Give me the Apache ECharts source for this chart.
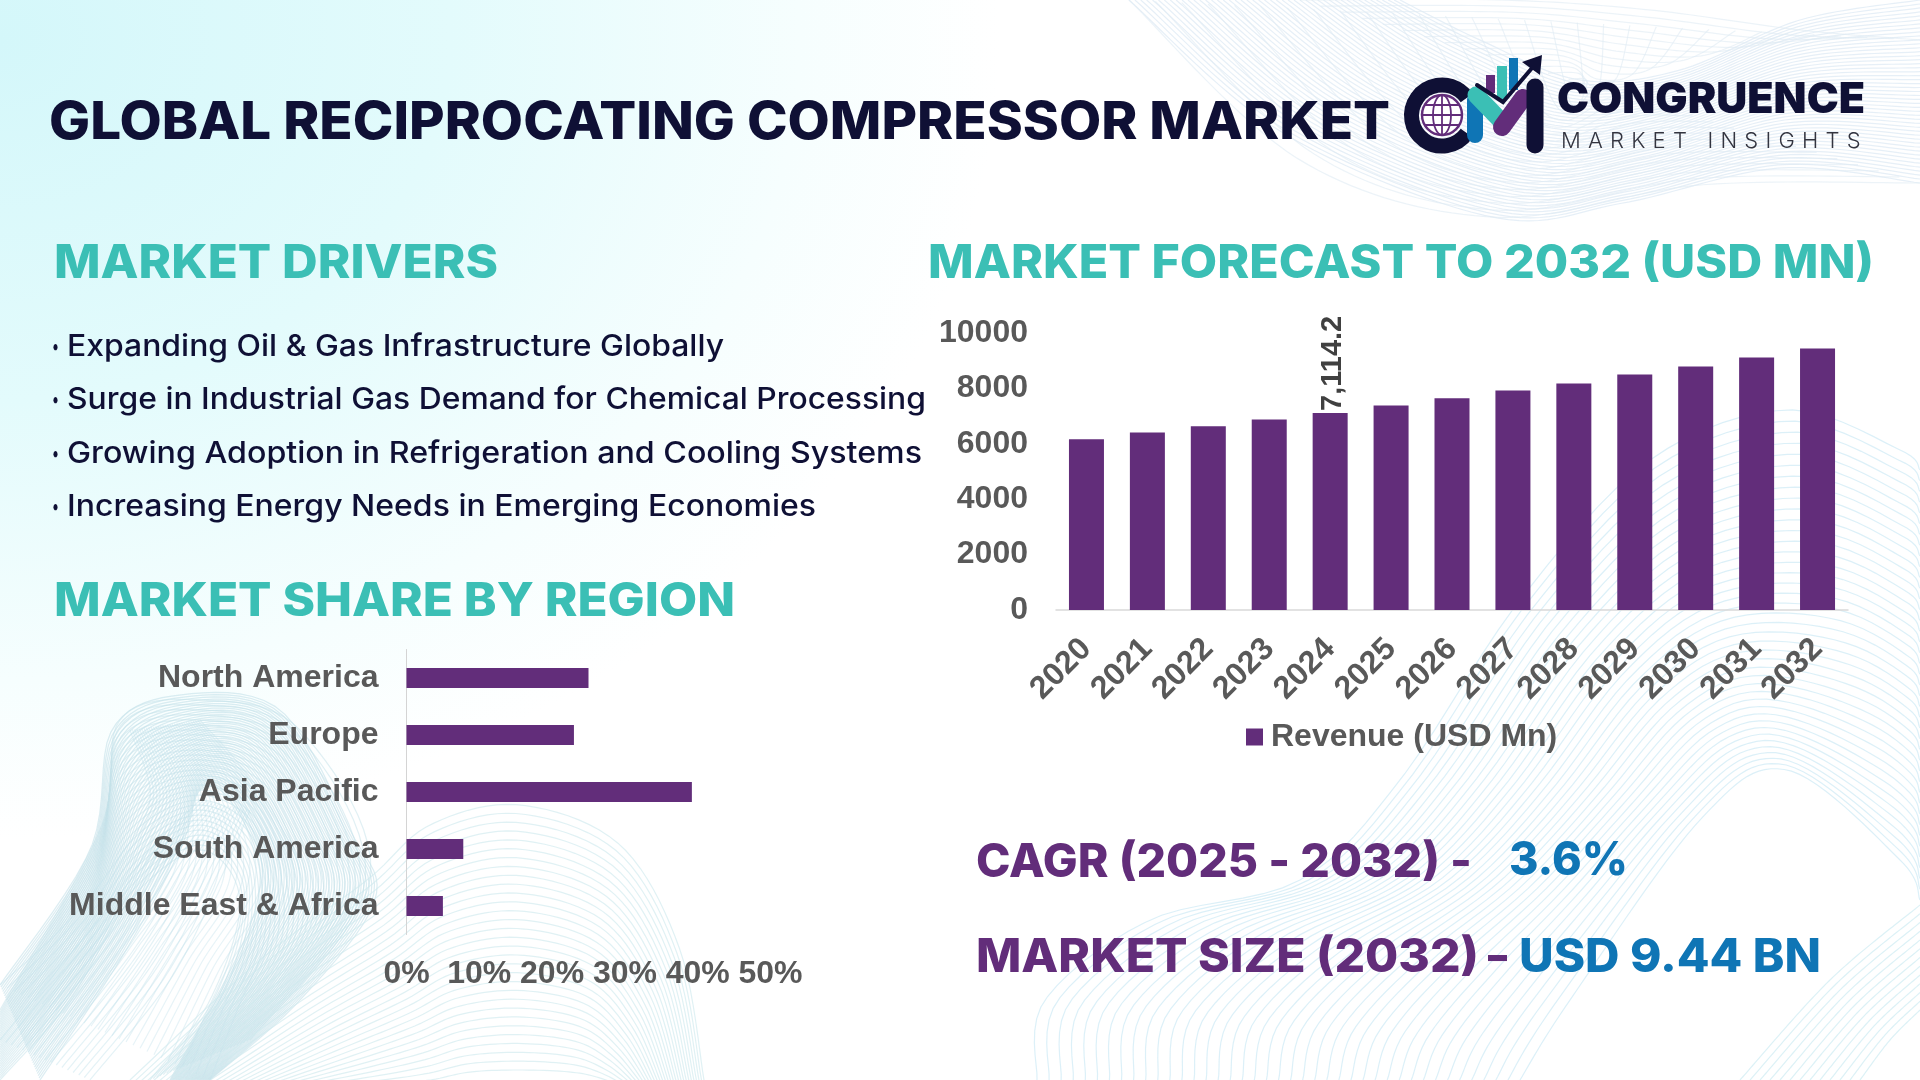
<!DOCTYPE html>
<html>
<head>
<meta charset="utf-8">
<title>Global Reciprocating Compressor Market</title>
<script src="https://cdn.jsdelivr.net/npm/echarts@6/dist/echarts.min.js"></script>
<style>
    html, body { margin: 0; padding: 0; background: #fff; }
    #page {
        position: relative; width: 1920px; height: 1080px; overflow: hidden;
        background: radial-gradient(ellipse 1000px 800px at 0 40px, #d4f7fa 0%, #e3fbfc 45%, #f6fefe 80%, #ffffff 100%);
    }
    #main { position: absolute; left: 0; top: 0; width: 1920px; height: 1080px; }
    #wordmark {
        position: absolute; left: 1561px; top: 127px; font: 300 22px Inter, sans-serif;
        letter-spacing: 7.2px; color: #33343f; white-space: nowrap;
    }
</style>
</head>
<body>
<div id="page">
    <div id="main"></div>
    <div id="wordmark">MARKET INSIGHTS</div>
</div>
<script>
const forecastYears = ['2020','2021','2022','2023','2024','2025','2026','2027','2028','2029','2030','2031','2032']
const forecastValues = [6160,6410,6630,6880,7114.2,7380,7640,7920,8180,8500,8790,9120,9440]
const labelledYear = '2024'

const regionNames = ['North America','Europe','Asia Pacific','South America','Middle East & Africa']
const regionShares = [25,23,39.2,7.8,5]

const driverLines = [
    'Expanding Oil & Gas Infrastructure Globally',
    'Surge in Industrial Gas Demand for Chemical Processing',
    'Growing Adoption in Refrigeration and Cooling Systems',
    'Increasing Energy Needs in Emerging Economies'
]

const PURPLE = '#622d7a'
const TEAL = '#3bbfb5'
const NAVY = '#0f1035'
const BLUE = '#0f75b5'
const GREY = '#595959'
const HEAD_FONT = 'Inter, sans-serif'
const CHART_FONT = '"Liberation Sans", Arial, sans-serif'

// decorative line families behind the charts, each one runs from edge a to edge b
const WAVES = [
    { color: '#d8e6f2', opacity: .65, n: 46, a: [[1129,0],[1283,133],[1492,217],[1623,203],[1780,168],[1920,183]], b: [[1400,0],[1480,40],[1580,80],[1680,70],[1800,20],[1920,0]] },
    { color: '#dfebf4', opacity: .6, n: 30, a: [[1129,0],[1300,160],[1492,217],[1700,185],[1920,183]], b: [[1920,40],[1800,30],[1650,10],[1500,0],[1300,0]] },
    { color: '#b9dbe6', opacity: .5, n: 44, a: [[0,985],[90,850],[112,730],[180,695],[280,710],[350,830],[375,900],[300,1000],[210,1080]], b: [[40,1080],[120,960],[180,850],[200,790],[230,800],[260,870],[240,950],[170,1080]] },
    { color: '#c4e2ea', opacity: .5, n: 30, a: [[0,1010],[100,830],[120,720],[200,700],[300,730],[370,880],[250,1040]], b: [[0,1080],[70,1000],[130,900],[200,850],[240,900],[210,1000],[150,1080]] },
    { color: '#c4e2ea', opacity: .45, n: 16, a: [[0,1040],[90,930],[150,850],[200,800]], b: [[90,1080],[170,980],[220,880],[250,810]] },
    { color: '#c4e2ea', opacity: .4, n: 30, a: [[0,985],[60,930],[110,870],[150,800],[130,730]], b: [[210,1080],[250,980],[300,880],[250,780],[200,720]] },
    { color: '#cfe9ee', opacity: .65, n: 30, a: [[130,1080],[260,960],[367,880],[430,825],[520,805],[620,845],[680,950],[704,1080]], b: [[300,1090],[380,1085],[430,1080],[470,1072],[520,1070],[570,1072],[600,1078],[630,1090]] },
    { color: '#cdeaf5', opacity: .7, n: 40, a: [[1037,1080],[1045,1000],[1150,920],[1300,880],[1400,780],[1520,600],[1650,460],[1787,410],[1900,450],[1920,470]], b: [[1520,1080],[1570,1000],[1700,820],[1787,770],[1900,860],[1920,900]] },
    { color: '#bfe5ee', opacity: .55, n: 12, a: [[1740,1080],[1830,980],[1920,905]], b: [[1860,1080],[1890,1040],[1920,1010]] }
]

// Catmull-Rom through the edge points, so every edge has the same number of samples
function resample(pts, size) {
    return Array.from({ length: size }, (_, i) => {
        const p = i / (size - 1) * (pts.length - 1)
        const k = Math.min(Math.floor(p), pts.length - 2)
        const t = p - k
        const p0 = pts[Math.max(k - 1, 0)], p1 = pts[k], p2 = pts[k + 1], p3 = pts[Math.min(k + 2, pts.length - 1)]
        return [0, 1].map(d => .5 * (2 * p1[d] + (p2[d] - p0[d]) * t + (2 * p0[d] - 5 * p1[d] + 4 * p2[d] - p3[d]) * t * t + (3 * p1[d] - p0[d] - 3 * p2[d] + p3[d]) * t * t * t))
    })
}

function waveLines() {
    const lines = []
    WAVES.forEach(w => {
        const a = resample(w.a, 70), b = resample(w.b, 70)
        for (let j = 0; j <= w.n; j++) {
            const t = j / w.n
            lines.push({
                type: 'polyline', silent: true, z: -10,
                shape: { points: a.map((p, i) => [p[0] + (b[i][0] - p[0]) * t, p[1] + (b[i][1] - p[1]) * t]) },
                style: { stroke: w.color, opacity: w.opacity, lineWidth: 1.2, fill: null }
            })
        }
    })
    return lines
}

const measure = document.createElement('canvas').getContext('2d')

// text squeezed or stretched horizontally to run from x to right
function fitText(text, x, right, cy, size, weight, fill, family) {
    const font = weight + ' ' + size + 'px ' + (family || HEAD_FONT)
    measure.font = font
    return {
        type: 'text', silent: true, z: 20, x: x, y: cy,
        scaleX: (right - x) / measure.measureText(text).width,
        style: { text: text, font: font, fill: fill, textAlign: 'left', textVerticalAlign: 'middle' }
    }
}

function seg(points, color, width) {
    return {
        type: 'polyline', silent: true, z: 15, shape: { points: points },
        style: { stroke: color, lineWidth: width, lineCap: 'round', lineJoin: 'miter', fill: null }
    }
}

function logo() {
    const bar = (x, y, w, h, fill) => ({ type: 'rect', silent: true, z: 14, shape: { x, y, width: w, height: h }, style: { fill } })
    const gx = 1442, gy = 115, gr = 20
    const globe = { stroke: PURPLE, lineWidth: 1.8, fill: null }
    return [
        { type: 'arc', silent: true, z: 15, shape: { cx: 1442, cy: 115.5, r: 30.5, startAngle: .62, endAngle: Math.PI * 2 - .62, clockwise: true }, style: { stroke: NAVY, lineWidth: 15, fill: null } },
        { type: 'circle', silent: true, z: 15, shape: { cx: gx, cy: gy, r: gr }, style: { stroke: PURPLE, lineWidth: 2.4, fill: '#ffffff' } },
        { type: 'ellipse', silent: true, z: 15, shape: { cx: gx, cy: gy, rx: 9, ry: gr }, style: globe },
        { type: 'line', silent: true, z: 15, shape: { x1: gx, y1: gy - gr, x2: gx, y2: gy + gr }, style: globe },
        { type: 'line', silent: true, z: 15, shape: { x1: gx - gr, y1: gy, x2: gx + gr, y2: gy }, style: globe },
        { type: 'line', silent: true, z: 15, shape: { x1: gx - 17, y1: gy - 10, x2: gx + 17, y2: gy - 10 }, style: globe },
        { type: 'line', silent: true, z: 15, shape: { x1: gx - 17, y1: gy + 10, x2: gx + 17, y2: gy + 10 }, style: globe },
        bar(1486, 75, 9, 18, PURPLE),
        bar(1497, 66, 10, 34, TEAL),
        bar(1509, 58, 9, 32, BLUE),
        seg([[1475, 100], [1475, 135]], BLUE, 16),
        seg([[1476, 95], [1502, 122]], TEAL, 17),
        seg([[1502, 127], [1523, 98]], PURPLE, 18),
        seg([[1535, 87], [1535, 145]], NAVY, 17),
        seg([[1477, 85], [1503, 102], [1532, 68]], NAVY, 4),
        { type: 'polygon', silent: true, z: 16, shape: { points: [[1522, 62], [1542, 55], [1540, 75]] }, style: { fill: NAVY } }
    ]
}

function pageText() {
    const texts = [
        fitText('GLOBAL RECIPROCATING COMPRESSOR MARKET', 49, 1390, 123, 52, 800, NAVY),
        fitText('MARKET DRIVERS', 54, 498, 264, 46, 800, TEAL),
        fitText('MARKET FORECAST TO 2032 (USD MN)', 928, 1874, 264, 46, 800, TEAL),
        fitText('MARKET SHARE BY REGION', 54, 735, 602, 46, 800, TEAL),
        fitText('CAGR (2025 - 2032) -', 976, 1472, 863, 46, 800, PURPLE),
        fitText('3.6%', 1509, 1628, 861, 46, 800, BLUE),
        fitText('MARKET SIZE (2032)', 976, 1479, 958, 46, 800, PURPLE),
        fitText('–', 1488, 1507, 958, 46, 800, PURPLE),
        fitText('USD 9.44 BN', 1519, 1821, 958, 46, 800, BLUE),
        fitText('CONGRUENCE', 1557, 1865, 100, 42, 900, NAVY)
    ]
    const rights = [724, 926, 922, 816]
    const rows = [347, 400, 454, 507]
    driverLines.forEach((t, i) => {
        texts.push(fitText('•', 52, 59, rows[i], 20, 500, NAVY))
        texts.push(fitText(t, 67, rights[i], rows[i], 30, 500, NAVY))
    })
    return texts
}

const chartLabel = { fontFamily: CHART_FONT, fontWeight: 'bold', fontSize: 32, color: GREY }

const chart = echarts.init(document.querySelector('#main'))
chart.setOption({
    animation: false,
    backgroundColor: 'transparent',
    graphic: waveLines().concat(logo(), pageText()),
    legend: {
        data: ['Revenue (USD Mn)'], left: 1246, top: 721, padding: 0, icon: 'rect', itemWidth: 17, itemHeight: 17,
        itemGap: 0, selectedMode: false, textStyle: Object.assign({}, chartLabel, { padding: [2, 0, 0, 3] })
    },
    grid: [
        { left: 1056, top: 333, width: 792, height: 277, outerBoundsMode: 'none' },
        { left: 406.5, top: 649.5, width: 364, height: 285, outerBoundsMode: 'none' }
    ],
    xAxis: [
        {
            type: 'category', gridIndex: 0, data: forecastYears,
            axisTick: { show: false }, axisLine: { lineStyle: { color: '#d9d9d9', width: 1.5 } },
            axisLabel: Object.assign({}, chartLabel, { rotate: 45, interval: 0, margin: 34 })
        },
        {
            type: 'value', gridIndex: 1, min: 0, max: 50, interval: 10,
            splitLine: { show: false }, axisLine: { show: false }, axisTick: { show: false },
            axisLabel: Object.assign({}, chartLabel, { formatter: '{value}%', margin: 24, hideOverlap: false })
        }
    ],
    yAxis: [
        {
            type: 'value', gridIndex: 0, min: 0, max: 10000, interval: 2000,
            splitLine: { show: false }, axisLine: { show: false }, axisTick: { show: false },
            axisLabel: Object.assign({}, chartLabel, { margin: 28, formatter: v => String(v) })
        },
        {
            type: 'category', gridIndex: 1, data: regionNames, inverse: true,
            axisTick: { show: false }, axisLine: { lineStyle: { color: '#d4d4d4', width: 1 } },
            axisLabel: Object.assign({}, chartLabel, { interval: 0, margin: 28 })
        }
    ],
    series: [
        {
            name: 'Revenue (USD Mn)', type: 'bar', xAxisIndex: 0, yAxisIndex: 0, barWidth: 35,
            itemStyle: { color: PURPLE },
            data: forecastValues.map((v, i) => forecastYears[i] !== labelledYear ? v : {
                value: v,
                label: {
                    show: true, position: 'top', rotate: 90, distance: 5, align: 'left', verticalAlign: 'middle', offset: [-3, 3],
                    fontFamily: CHART_FONT, fontWeight: 'bold', fontSize: 29, color: '#404040',
                    formatter: p => p.value.toLocaleString('en-US', { minimumFractionDigits: 1 })
                }
            })
        },
        {
            name: 'Market share', type: 'bar', xAxisIndex: 1, yAxisIndex: 1, barWidth: 20,
            itemStyle: { color: PURPLE }, data: regionShares
        }
    ]
})
</script>
</body>
</html>
